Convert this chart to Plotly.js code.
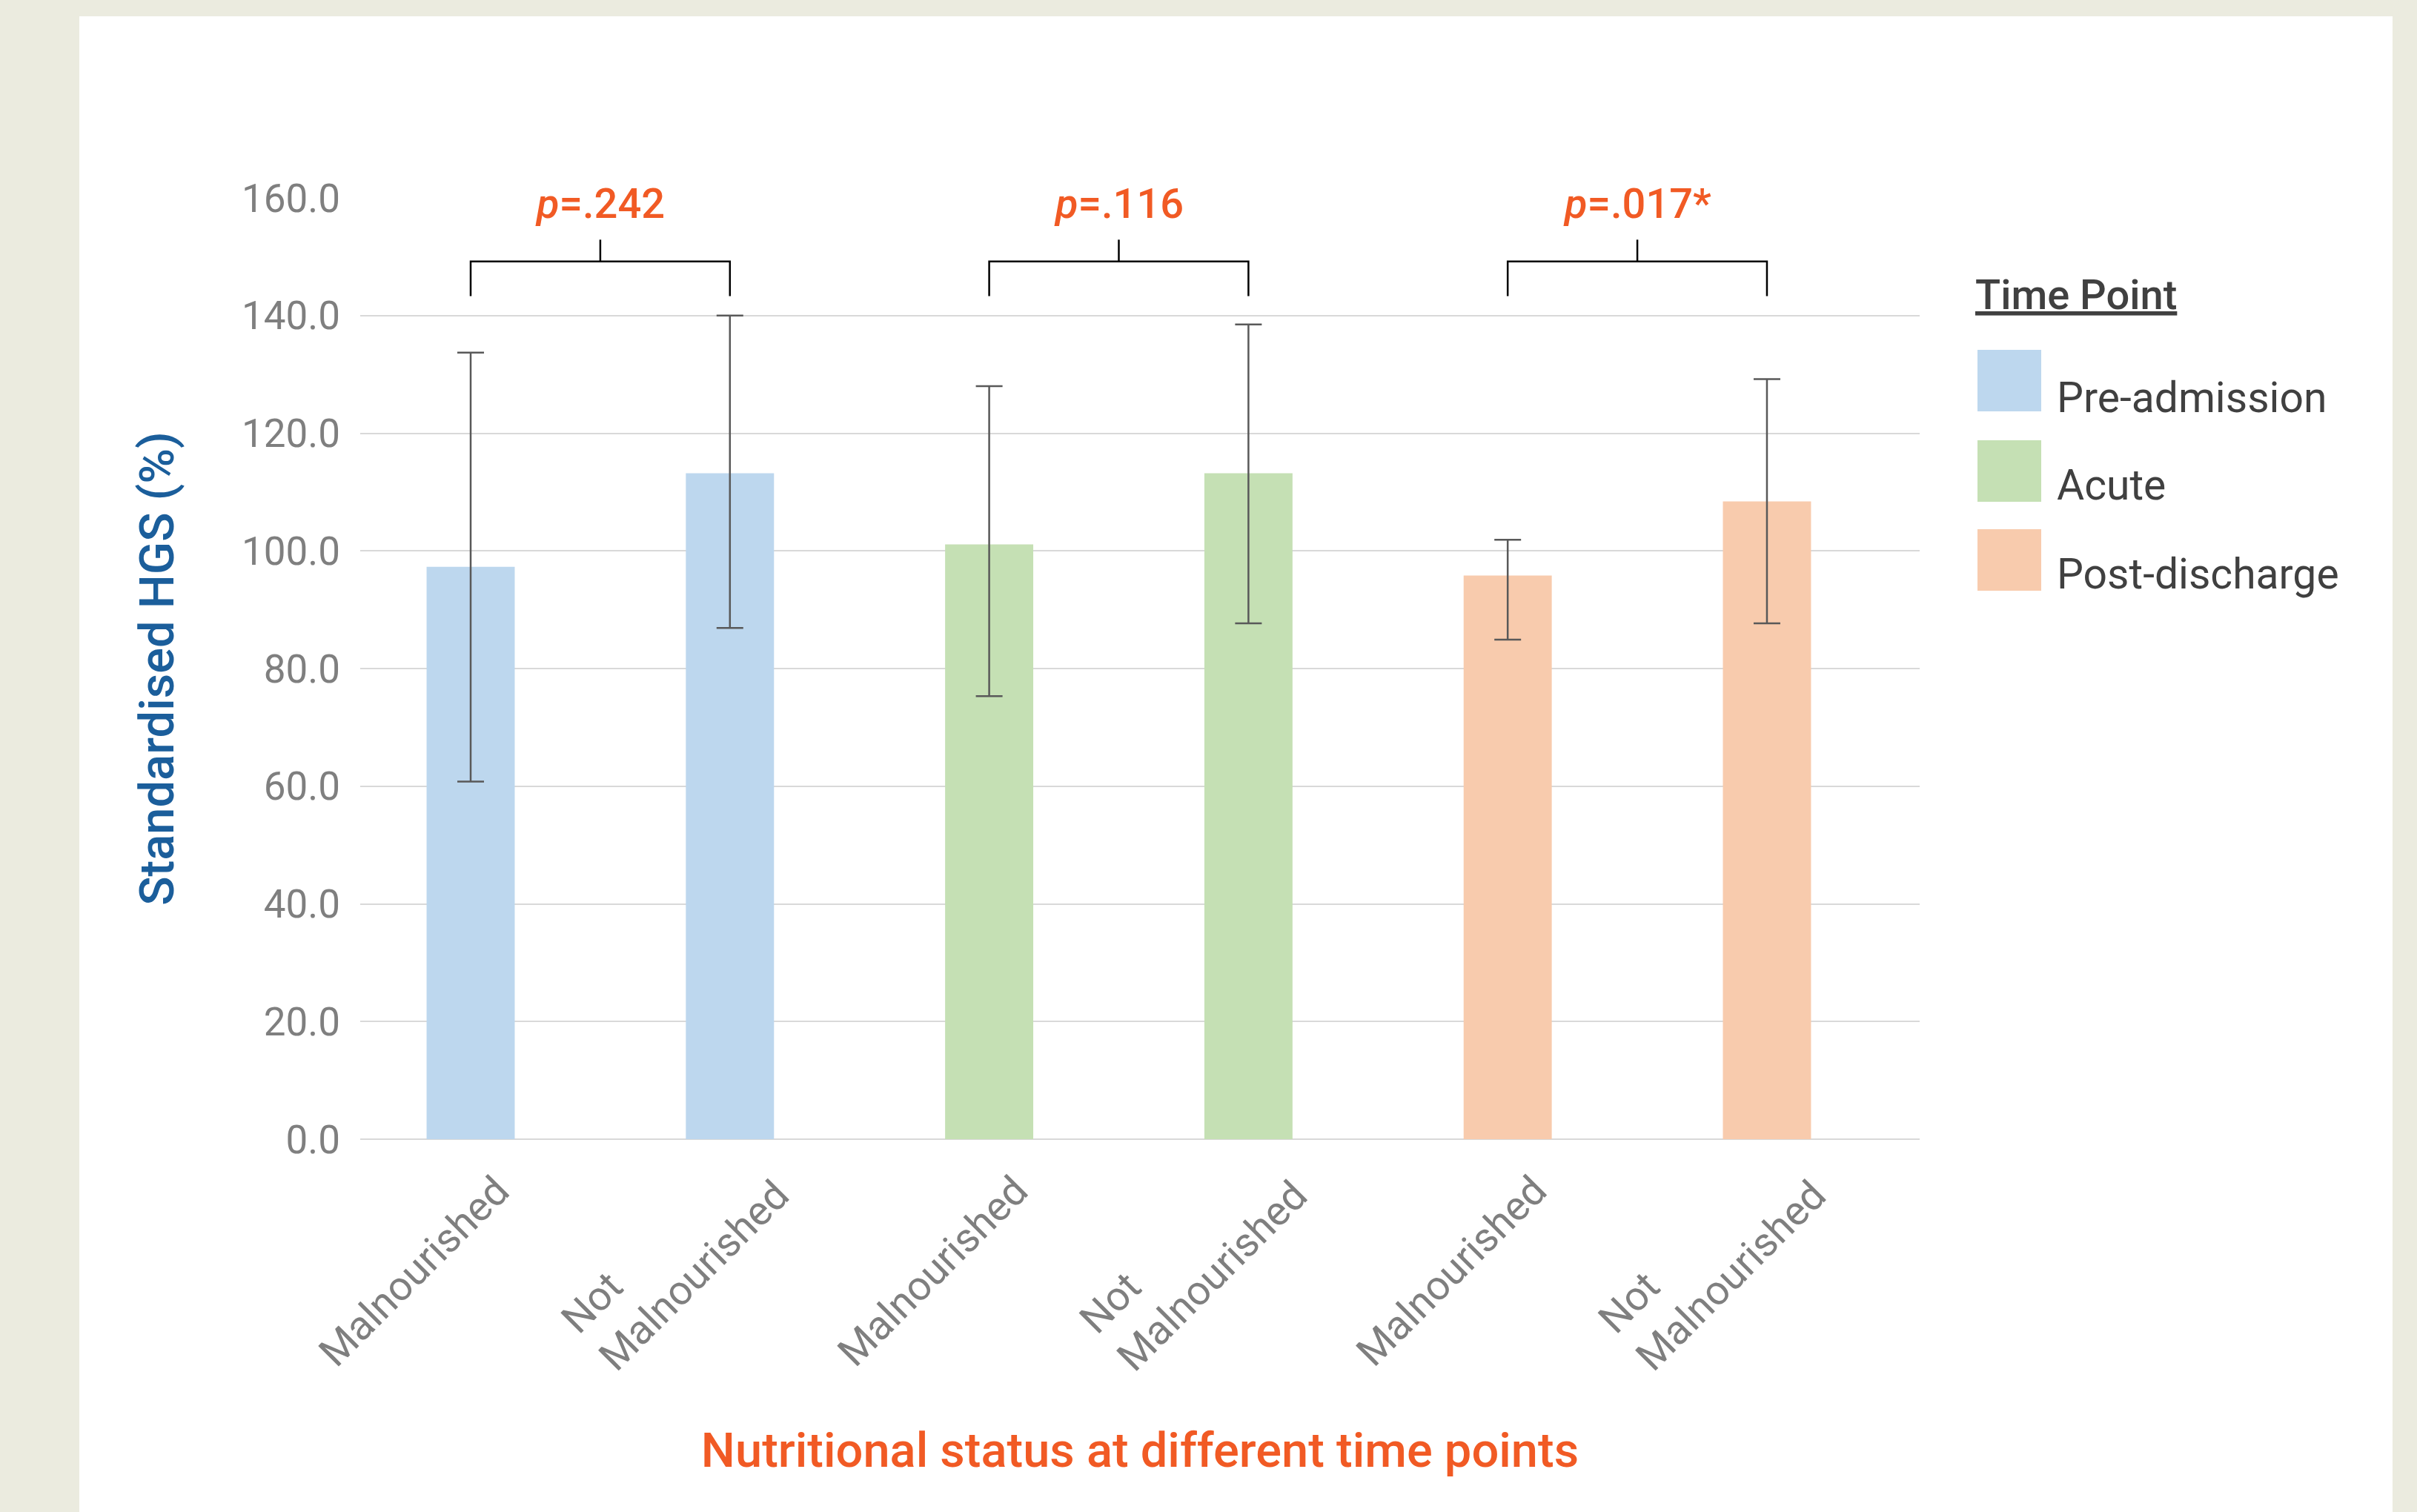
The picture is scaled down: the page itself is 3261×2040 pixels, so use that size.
<!DOCTYPE html>
<html>
<head>
<meta charset="utf-8">
<script src="https://cdn.plot.ly/plotly-3.0.1.min.js"></script>
<style>
html,body{margin:0;padding:0;background:#EBEBDF;width:3261px;height:2040px;overflow:hidden;}
#chart{position:absolute;left:107px;top:22px;width:3121px;height:2018px;}
</style>
</head>
<body>
<div id="chart"></div>
<script>
// ---------- data ----------
const categories = ["Malnourished", "Not<br>Malnourished", "Malnourished", "Not<br>Malnourished", "Malnourished", "Not<br>Malnourished"];
const timePoints = ["Pre-admission", "Acute", "Post-discharge"];
const preAdmission = [97.3, 113.2];
const acute = [101.1, 113.2];
const postDischarge = [95.8, 108.4];
const preAdmissionErrUp = [36.4, 26.8];
const preAdmissionErrDown = [36.5, 26.3];
const acuteErrUp = [26.9, 25.3];
const acuteErrDown = [25.8, 25.5];
const postDischargeErrUp = [6.1, 20.8];
const postDischargeErrDown = [10.9, 20.7];
const pValues = [".242", ".116", ".017*"];
const yTickStep = 20;
const yMax = 160;

// ---------- styling ----------
const seriesValues = [preAdmission, acute, postDischarge];
const seriesUp = [preAdmissionErrUp, acuteErrUp, postDischargeErrUp];
const seriesDown = [preAdmissionErrDown, acuteErrDown, postDischargeErrDown];
const colors = ["#BDD7EE", "#C5E0B4", "#F8CBAD"];
const FONT = "Roboto, 'Open Sans', Arial, sans-serif";
const ORANGE = "#F15A24";

const W = 3121, H = 2018;
const M = {l: 379, r: 638, t: 245, b: 503};
const plotW = W - M.l - M.r, plotH = H - M.t - M.b;
const px = x => (x - M.l) / plotW;
const py = y => (H - M.b - y) / plotH;

const traces = timePoints.map((name, t) => ({
  type: "bar",
  name: name,
  x: seriesValues[t].map((v, i) => t * 2 + i),
  y: seriesValues[t],
  width: 0.34,
  marker: {color: colors[t], line: {width: 0}},
  error_y: {
    type: "data", symmetric: false,
    array: seriesUp[t], arrayminus: seriesDown[t],
    color: "#595959", thickness: 2.5, width: 18
  },
  showlegend: false,
  hoverinfo: "skip"
}));

const shapes = [];
const annotations = [];

// significance brackets
pValues.forEach((p, g) => {
  const a = g * 2, b = g * 2 + 1, mid = g * 2 + 0.5;
  shapes.push({type: "path", xref: "x", yref: "y",
    path: `M ${a},143.3 L ${a},149.2 L ${b},149.2 L ${b},143.3`,
    line: {color: "#000000", width: 2.5}});
  shapes.push({type: "line", xref: "x", yref: "y", x0: mid, x1: mid, y0: 149.2, y1: 152.9,
    line: {color: "#000000", width: 2.5}});
  annotations.push({xref: "x", yref: "y", x: mid, y: 159, text: "<i>p</i>=" + p,
    showarrow: false, xanchor: "center", yanchor: "middle",
    font: {family: FONT, size: 56, color: ORANGE, weight: 500}});
});

// x category labels (rotated, left aligned lines)
categories.forEach((c, i) => {
  const lines = c.split("<br>").length;
  annotations.push({xref: "x", yref: "paper", x: i, y: 0, text: c,
    showarrow: false, textangle: -45, xanchor: "right", yanchor: "top", align: "left",
    xshift: lines > 1 ? 95 : 67, yshift: lines > 1 ? 10 : -34,
    font: {family: FONT, size: 55, color: "#7F7F7F"}});
});

// custom legend
annotations.push({xref: "paper", yref: "paper", x: px(2556), y: py(376), text: "<u>Time Point</u>",
  showarrow: false, xanchor: "left", yanchor: "middle",
  font: {family: FONT, size: 56, color: "#404040", weight: 500}});
const legTops = [450, 572, 692];
const legText = [514, 632, 752];
timePoints.forEach((name, t) => {
  shapes.push({type: "rect", xref: "paper", yref: "paper",
    x0: px(2561), x1: px(2647), y0: py(legTops[t] + 83), y1: py(legTops[t]),
    fillcolor: colors[t], line: {width: 0}});
  annotations.push({xref: "paper", yref: "paper", x: px(2666), y: py(legText[t]), text: name,
    showarrow: false, xanchor: "left", yanchor: "middle",
    font: {family: FONT, size: 57, color: "#404040"}});
});

const layout = {
  width: W, height: H,
  margin: M,
  paper_bgcolor: "#FFFFFF",
  plot_bgcolor: "#FFFFFF",
  font: {family: FONT},
  barmode: "overlay",
  showlegend: false,
  xaxis: {
    range: [-0.426, 5.589],
    tickvals: categories.map((c, i) => i),
    showticklabels: false, ticks: "",
    showgrid: false, zeroline: false, showline: false,
    title: {text: "Nutritional status at different time points", standoff: 396,
      font: {family: FONT, size: 65, color: ORANGE, weight: 500}}
  },
  yaxis: {
    range: [0, yMax], dtick: yTickStep, tick0: 0, tickformat: ".1f",
    ticks: "", ticklabelstandoff: 26,
    tickfont: {family: FONT, size: 53, color: "#7F7F7F"},
    showgrid: true, gridcolor: "#D9D9D9", gridwidth: 2,
    zeroline: true, zerolinecolor: "#D9D9D9", zerolinewidth: 2,
    showline: false,
    title: {text: "Standardised HGS (%)", standoff: 70,
      font: {family: FONT, size: 65, color: "#1B5E9B", weight: 500}}
  },
  shapes: shapes,
  annotations: annotations
};

Plotly.newPlot("chart", traces, layout, {staticPlot: true, displayModeBar: false});
</script>
</body>
</html>
